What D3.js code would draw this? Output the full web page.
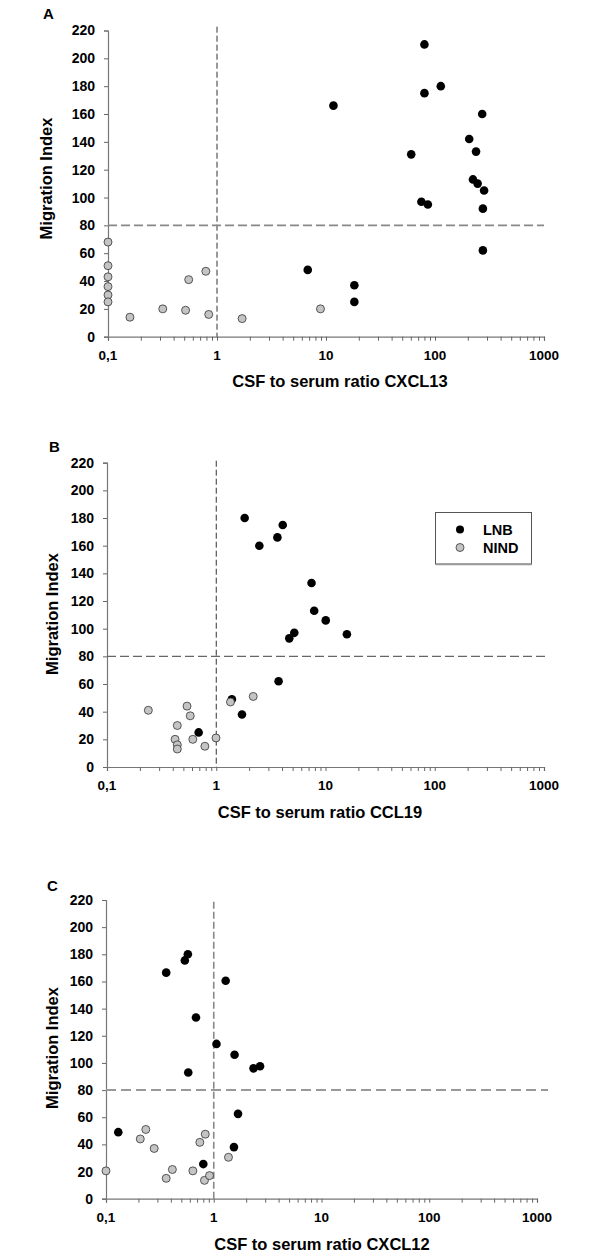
<!DOCTYPE html>
<html><head><meta charset="utf-8">
<script src="https://cdn.jsdelivr.net/npm/d3@7"></script>
<style>html,body{margin:0;padding:0;background:#fff;}svg{display:block;font-family:"Liberation Sans",Arial,sans-serif;}</style>
</head><body>
<svg id="chart" width="600" height="1257"></svg>
<script>
// Tick labels
const yTicks = [0,20,40,60,80,100,120,140,160,180,200,220];
const xMajorTicks = [0.1,1,10,100,1000];
const xTickLabels = ["0,1","1","10","100","1000"];
const seriesNames = ["LNB","NIND"];
const panelLetters = ["A","B","C"];
const xTitles = ["CSF to serum ratio CXCL13","CSF to serum ratio CCL19","CSF to serum ratio CXCL12"];
const yTitle = "Migration Index";
const cutoffX = 1, cutoffY = 80;

// Panel A: CXCL13
const lnbA_x = [80,113,80,11.7,271,206,238,60.5,223,246,282,75,86,275,275,6.8,18.2,18.2];
const lnbA_y = [210,180,175,166,160,142,133,131,113,110,105,97,95,92,62,48,37,25];
const nindA_x = [0.1,0.1,0.1,0.1,0.1,0.1,0.159,0.318,0.55,0.515,0.79,0.84,1.70,8.9];
const nindA_y = [68,51,43,36,30,25,14,20,41,19,47,16,13,20];

// Panel B: CCL19
const lnbB_x = [1.82,4.06,3.63,2.48,7.45,7.88,10.05,15.7,5.18,4.66,3.72,1.39,1.72,0.69];
const lnbB_y = [180,175,166,160,133,113,106,96,97,93,62,49,38,25];
const nindB_x = [0.239,0.54,0.578,0.44,0.42,0.44,0.44,0.61,0.787,0.995,1.35,2.18];
const nindB_y = [41,44,37,30,20,16,13,20,15,21,47,51];

// Panel C: CXCL12
const lnbC_x = [0.575,0.539,0.362,1.29,0.684,1.06,1.56,2.34,2.69,0.58,1.68,0.13,1.54,0.8];
const lnbC_y = [180,175.5,166.5,160.5,133.5,114,106,96,97.5,93,62.5,49,38,25.5];
const nindC_x = [0.1,0.208,0.234,0.28,0.834,0.743,1.37,0.413,0.362,0.64,0.82,0.914];
const nindC_y = [20.5,44,51,37,47.5,41.5,30.5,21.5,15,20.5,13.5,17];

const svg = d3.select("#chart");
const zip = (xs, ys) => xs.map((x,i)=>({x:x,y:ys[i]}));

const panels = [
  {letter:panelLetters[0], title:xTitles[0], lnb:zip(lnbA_x,lnbA_y), nind:zip(nindA_x,nindA_y),
   x0:108, x1:544, yb:336.7, yt:30.5, letterPos:[43,19], yTitlePos:[46,178.5], xTitlePos:[340,387],
   hEnd:544, vTop:26.7, vStyle:{c:"#333",w:1,d:"6,3"}, hStyle:{c:"#888",w:1.6,d:"9,4"}, legend:false},
  {letter:panelLetters[1], title:xTitles[1], lnb:zip(lnbB_x,lnbB_y), nind:zip(nindB_x,nindB_y),
   x0:107, x1:544, yb:767, yt:462.7, letterPos:[49,452], yTitlePos:[52,614], xTitlePos:[320,818],
   hEnd:548, vTop:460.7, vStyle:{c:"#333",w:1,d:"6,3"}, hStyle:{c:"#666",w:1.3,d:"9,4"}, legend:true},
  {letter:panelLetters[2], title:xTitles[2], lnb:zip(lnbC_x,lnbC_y), nind:zip(nindC_x,nindC_y),
   x0:106, x1:537, yb:1198.7, yt:900, letterPos:[47,891], yTitlePos:[52,1048], xTitlePos:[322,1250],
   hEnd:548, vTop:901.7, vStyle:{c:"#888",w:1.6,d:"7,3"}, hStyle:{c:"#999",w:2,d:"10,5"}, legend:false}
];

panels.forEach(p => {
  const g = svg.append("g");
  const x = d3.scaleLog().domain([0.1,1000]).range([p.x0,p.x1]);
  const y = d3.scaleLinear().domain([0,220]).range([p.yb,p.yt]);

  // minor + major ticks for log axis
  const allTicks = [];
  for (let e=-1; e<3; e++) for (let m=1; m<10; m++) allTicks.push(m*Math.pow(10,e));
  allTicks.push(1000);

  const xAxis = d3.axisBottom(x).tickValues(allTicks).tickSize(4).tickFormat(()=> "");
  const gx = g.append("g").attr("transform",`translate(0,${p.yb})`).call(xAxis);
  gx.select(".domain").attr("stroke","#777").attr("stroke-width",1.2);
  gx.selectAll(".tick line").attr("stroke","#666");

  // major tick labels
  g.append("g").selectAll("text").data(xMajorTicks).join("text")
    .attr("x", d=>x(d)).attr("y", p.yb+23)
    .attr("text-anchor","middle").attr("font-size",13.5).attr("font-weight","bold").attr("fill","#000")
    .text((d,i)=>xTickLabels[i]);

  const yAxis = d3.axisLeft(y).tickValues(yTicks).tickSize(4).tickPadding(9).tickFormat(d3.format("d"));
  const gy = g.append("g").attr("transform",`translate(${p.x0},0)`).call(yAxis);
  gy.select(".domain").attr("stroke","#777").attr("stroke-width",1.2);
  gy.selectAll(".tick line").attr("stroke","#666");
  gy.selectAll(".tick text").attr("font-size",14).attr("font-weight","bold").attr("fill","#000")
    .attr("font-family","Liberation Sans, Arial, sans-serif");

  // cutoff lines
  g.append("line").attr("x1",x(cutoffX)).attr("x2",x(cutoffX)).attr("y1",p.vTop).attr("y2",p.yb)
    .attr("stroke",p.vStyle.c).attr("stroke-width",p.vStyle.w).attr("stroke-dasharray",p.vStyle.d);
  g.append("line").attr("x1",p.x0).attr("x2",p.hEnd).attr("y1",y(cutoffY)).attr("y2",y(cutoffY))
    .attr("stroke",p.hStyle.c).attr("stroke-width",p.hStyle.w).attr("stroke-dasharray",p.hStyle.d);

  // points
  g.append("g").selectAll("circle").data(p.lnb).join("circle")
    .attr("cx",d=>x(d.x)).attr("cy",d=>y(d.y)).attr("r",4.3).attr("fill","#000");
  g.append("g").selectAll("circle").data(p.nind).join("circle")
    .attr("cx",d=>x(d.x)).attr("cy",d=>y(d.y)).attr("r",4).attr("fill","#c4c4c4")
    .attr("stroke","#333").attr("stroke-width",0.8);

  // texts
  g.append("text").attr("x",p.letterPos[0]).attr("y",p.letterPos[1]).attr("font-size",15)
    .attr("font-weight","bold").text(p.letter);
  g.append("text").attr("transform",`translate(${p.yTitlePos[0]},${p.yTitlePos[1]}) rotate(-90)`)
    .attr("text-anchor","middle").attr("dominant-baseline","central")
    .attr("font-size",16.5).attr("font-weight","bold").text(yTitle);
  g.append("text").attr("x",p.xTitlePos[0]).attr("y",p.xTitlePos[1]).attr("text-anchor","middle")
    .attr("font-size",16.5).attr("font-weight","bold").text(p.title);

  if (p.legend) {
    const lg = g.append("g");
    lg.append("rect").attr("x",435.5).attr("y",512.5).attr("width",96).attr("height",51.5)
      .attr("fill","#fff").attr("stroke","#555").attr("stroke-width",1);
    lg.append("line").attr("x1",436).attr("x2",532).attr("y1",564.5).attr("y2",564.5)
      .attr("stroke","#999").attr("stroke-width",1.5);
    const items = [{n:seriesNames[0],f:"#000",s:"none",cy:529.5},{n:seriesNames[1],f:"#c4c4c4",s:"#333",cy:547.5}];
    items.forEach(it=>{
      lg.append("circle").attr("cx",460).attr("cy",it.cy).attr("r",4).attr("fill",it.f)
        .attr("stroke",it.s).attr("stroke-width",0.8);
      lg.append("text").attr("x",483).attr("y",it.cy+5).attr("font-size",14.5).attr("font-weight","bold").text(it.n);
    });
  }
});
</script>
</body></html>
